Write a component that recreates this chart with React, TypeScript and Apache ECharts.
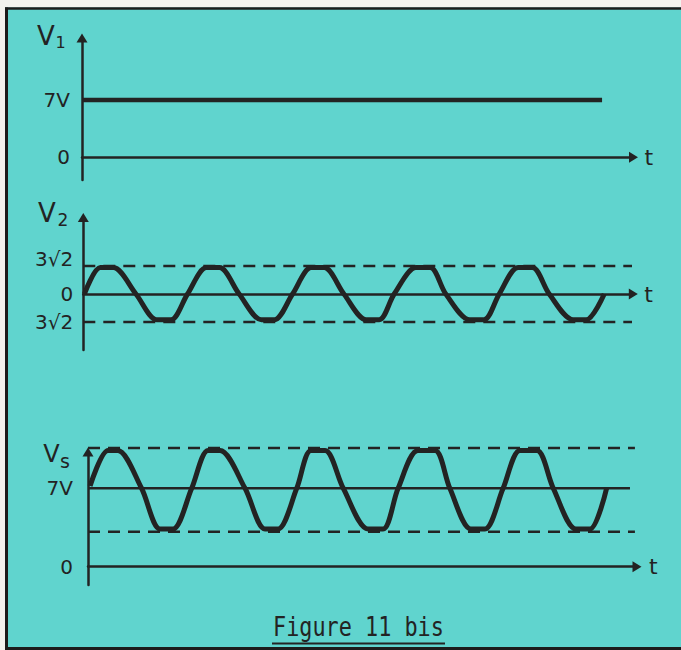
import React, { useEffect, useRef } from "react";
import * as echarts from "echarts";

// ---- data (time in arbitrary units, voltage in V) ----
const V1_TICKS = [0, 7];
const V2_TICKS = [-4.24, 0, 4.24];
const VS_TICKS = [0, 7];

const V1_LEVEL = [
  [0, 7],
  [19.85, 7],
];

const V2_UPPER = [
  [0, 4.24],
  [20.95, 4.24],
];
const V2_LOWER = [
  [0, -4.24],
  [20.95, -4.24],
];
const V2_WAVE = [
  [0.04, 0], [0.65, 4.0], [1.15, 4.0], [2.01, 0], [2.8, -3.9], [3.35, -3.9],
  [3.98, 0], [4.7, 4.0], [5.2, 4.0], [5.95, 0], [6.8, -3.9], [7.3, -3.9],
  [7.99, 0], [8.7, 4.0], [9.2, 4.0], [9.95, 0], [10.8, -3.9], [11.3, -3.9],
  [11.87, 0], [12.7, 4.0], [13.25, 4.0], [13.84, 0], [14.75, -3.9], [15.3, -3.9],
  [15.88, 0], [16.6, 4.0], [17.15, 4.0], [17.79, 0], [18.7, -3.9], [19.2, -3.9],
  [19.89, 0],
];

const VS_DC = [
  [0, 7],
  [20.85, 7],
];
const VS_UPPER = [
  [0, 10.6],
  [21.04, 10.6],
];
const VS_LOWER = [
  [0, 3.13],
  [21.04, 3.13],
];
const VS_WAVE = [
  [0.08, 7.2], [0.77, 10.37], [1.15, 10.37], [2.06, 7], [2.77, 3.37], [3.27, 3.37],
  [3.99, 7], [4.62, 10.37], [5.08, 10.37], [6.04, 7], [6.81, 3.37], [7.31, 3.37],
  [8.03, 7], [8.58, 10.37], [9.12, 10.37], [9.82, 7], [10.77, 3.37], [11.35, 3.37],
  [11.93, 7], [12.69, 10.37], [13.35, 10.37], [13.92, 7], [14.73, 3.37], [15.27, 3.37],
  [15.97, 7], [16.62, 10.37], [17.27, 10.37], [17.9, 7], [18.77, 3.37], [19.31, 3.37],
  [19.95, 7],
];

const TITLE = "Figure 11 bis";

// ---- styling ----
const BG = "#60d4ce";
const INK = "#232323";
const LABEL_FONT = "DejaVu Sans";

export default function App() {
  const ref = useRef<HTMLDivElement>(null);

  useEffect(() => {
    if (!ref.current) return;
    const chart = echarts.init(ref.current, null, { renderer: "svg" });

    const axisLineStyle = { color: INK, width: 2.5 };
    const labelBase = {
      color: INK,
      fontSize: 20,
      fontFamily: LABEL_FONT,
    };

    const xAxisFor = (grid: number, max: number, gap: number) => ({
      type: "value",
      gridIndex: grid,
      min: 0,
      max,
      axisLine: {
        show: true,
        onZero: true,
        symbol: ["none", "triangle"],
        symbolSize: [11, 9],
        lineStyle: axisLineStyle,
      },
      axisTick: { show: false },
      axisLabel: { show: false },
      splitLine: { show: false },
      name: "t",
      nameLocation: "end",
      nameGap: gap,
      nameTextStyle: { color: INK, fontSize: 22, fontFamily: LABEL_FONT },
    });

    const yAxisFor = (
      grid: number,
      min: number,
      max: number,
      ticks: number[],
      margin: number,
      fmt: (v: number) => string
    ) => ({
      type: "value",
      gridIndex: grid,
      min,
      max,
      axisLine: {
        show: true,
        onZero: false,
        symbol: ["none", "triangle"],
        symbolSize: [11, 9],
        lineStyle: axisLineStyle,
      },
      axisTick: { show: false },
      splitLine: { show: false },
      axisLabel: {
        ...labelBase,
        margin,
        customValues: ticks,
        formatter: fmt,
        rich: {
          up: { ...labelBase, padding: [0, 0, 14, 0] },
        },
      },
    });

    const line = (
      x: number,
      data: number[][],
      width: number,
      type: any = "solid",
      smooth: number | boolean = false
    ) => ({
      type: "line",
      xAxisIndex: x,
      yAxisIndex: x,
      data,
      smooth,
      showSymbol: false,
      symbol: "none",
      clip: false,
      silent: true,
      lineStyle: { color: INK, width, type },
    });

    const option: any = {
      animation: false,
      backgroundColor: BG,
      grid: [
        { left: 82, top: 38, width: 551.5, height: 142, outerBoundsMode: "none" },
        { left: 83.3, top: 217.5, width: 550, height: 132.5, outerBoundsMode: "none" },
        { left: 88, top: 452, width: 549, height: 133, outerBoundsMode: "none" },
      ],
      xAxis: [xAxisFor(0, 21.05, 11), xAxisFor(1, 21.0, 11), xAxisFor(2, 21.12, 12)],
      yAxis: [
        yAxisFor(0, -2.77, 14.57, V1_TICKS, 12, (v) => (v === 7 ? "7V" : "0")),
        yAxisFor(1, -8.48, 11.59, V2_TICKS, 10, (v) =>
          v > 0 ? "{up|3√2}" : v < 0 ? "3√2" : "0"
        ),
        yAxisFor(2, -1.63, 10.24, VS_TICKS, 15, (v) => (v === 7 ? "7V" : "0")),
      ],
      series: [
        line(0, V1_LEVEL, 4.5),
        line(1, V2_UPPER, 2.5, [12, 8]),
        line(1, V2_LOWER, 2.5, [12, 8]),
        line(1, V2_WAVE, 5, "solid", 0.3),
        line(2, VS_DC, 2.5),
        line(2, VS_UPPER, 2.5, [12, 8]),
        line(2, VS_LOWER, 2.5, [12, 8]),
        line(2, VS_WAVE, 5, "solid", 0.3),
      ],
      graphic: [
        // page margins outside the scanned frame
        { type: "rect", shape: { x: 0, y: 0, width: 681, height: 7.5 }, style: { fill: "#f3f3ef" } },
        { type: "rect", shape: { x: 0, y: 0, width: 5, height: 650 }, style: { fill: "#f3f3ef" } },
        // frame
        { type: "line", shape: { x1: 5, y1: 8.5, x2: 681, y2: 8.5 }, style: { stroke: "#1c1c1c", lineWidth: 2.5 } },
        { type: "line", shape: { x1: 6.5, y1: 7.5, x2: 6.5, y2: 650 }, style: { stroke: "#1c1c1c", lineWidth: 3 } },
        { type: "line", shape: { x1: 5, y1: 648.5, x2: 681, y2: 648.5 }, style: { stroke: "#1c1c1c", lineWidth: 3 } },
        // axis names
        ...[
          ["V", 46, 36, 26],
          ["1", 60.5, 42, 16],
          ["V", 47, 212.5, 26],
          ["2", 63, 219.5, 17],
          ["V", 51.5, 453.5, 24],
          ["s", 65, 460.5, 19],
        ].map(([t, x, y, s]) => ({
          type: "text",
          x: x as number,
          y: y as number,
          style: {
            text: t as string,
            font: `${s}px ${LABEL_FONT}`,
            fill: INK,
            align: "center",
            verticalAlign: "middle",
            textAlign: "center",
            textVerticalAlign: "middle",
          },
        })),
        // caption
        {
          type: "text",
          x: 273,
          y: 627.5,
          scaleX: 0.84,
          style: {
            text: TITLE,
            font: "26px DejaVu Sans Mono",
            fill: INK,
            align: "left",
            verticalAlign: "middle",
            textAlign: "left",
            textVerticalAlign: "middle",
          },
        },
        { type: "line", shape: { x1: 272, y1: 643.5, x2: 445, y2: 643.5 }, style: { stroke: INK, lineWidth: 2 } },
      ],
    };

    chart.setOption(option);
    return () => chart.dispose();
  }, []);

  return (
    <div
      ref={ref}
      style={{ position: "fixed", left: 0, top: 0, width: 681, height: 650 }}
    />
  );
}
